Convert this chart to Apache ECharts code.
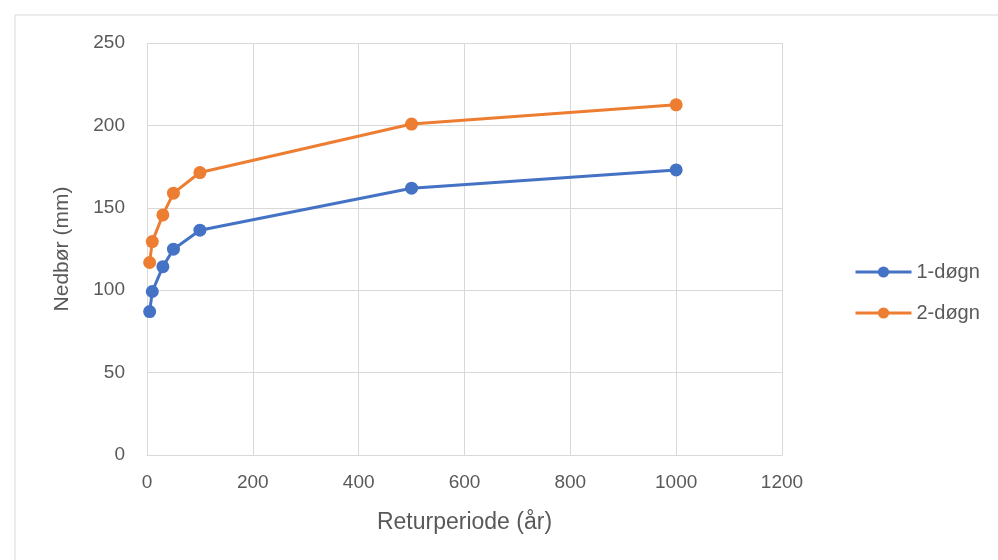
<!DOCTYPE html>
<html><head><meta charset="utf-8">
<script src="https://cdn.jsdelivr.net/npm/echarts@6/dist/echarts.min.js"></script>
<style>html,body{margin:0;padding:0;background:#fff}#c{width:998px;height:560px}</style>
</head><body><div id="c"></div>
<script>
const returnPeriods = [5, 10, 30, 50, 100, 500, 1000];
const day1 = [87.0, 99.2, 114.3, 124.9, 136.4, 161.9, 173.0];
const day2 = [116.8, 129.5, 145.7, 158.9, 171.4, 200.8, 212.5];
const seriesNames = ['1-døgn', '2-døgn'];
const xTitle = 'Returperiode (år)';
const yTitle = 'Nedbør (mm)';

const font = 'Liberation Sans';
const txt = '#595959';
const chart = echarts.init(document.getElementById('c'), null, {renderer: 'canvas'});
const pair = arr => returnPeriods.map((x, i) => [x, arr[i]]);
chart.setOption({
  animation: false,
  backgroundColor: '#fff',
  graphic: [{type: 'rect', shape: {x: 15, y: 15, width: 1000, height: 600}, style: {fill: 'none', stroke: '#d9d9d9', lineWidth: 1}, silent: true}],
  grid: {left: 147, right: 216, top: 43, bottom: 105},
  legend: {
    orient: 'vertical', left: 849, top: 257, itemGap: 21, itemWidth: 56, itemHeight: 14,
    lineStyle: {width: 3},
    textStyle: {color: txt, fontFamily: font, fontSize: 20},
    data: seriesNames
  },
  xAxis: {
    type: 'value', min: 0, max: 1200, interval: 200,
    name: xTitle, nameLocation: 'middle', nameGap: 56,
    nameTextStyle: {color: txt, fontFamily: font, fontSize: 23},
    axisLine: {show: true, lineStyle: {color: '#d9d9d9'}},
    axisTick: {show: false},
    axisLabel: {color: txt, fontFamily: font, fontSize: 19, margin: 18, formatter: v => String(v)},
    splitLine: {show: true, lineStyle: {color: '#d9d9d9'}}
  },
  yAxis: {
    type: 'value', min: 0, max: 250, interval: 50,
    name: yTitle, nameLocation: 'middle', nameGap: 74, nameRotate: 90,
    nameTextStyle: {color: txt, fontFamily: font, fontSize: 21},
    axisLine: {show: false},
    axisTick: {show: false},
    axisLabel: {color: txt, fontFamily: font, fontSize: 19, margin: 22},
    splitLine: {show: true, lineStyle: {color: '#d9d9d9'}}
  },
  series: [
    {name: seriesNames[0], type: 'line', data: pair(day1), color: '#4472C4',
     symbol: 'circle', symbolSize: 13, lineStyle: {width: 3}},
    {name: seriesNames[1], type: 'line', data: pair(day2), color: '#ED7D31',
     symbol: 'circle', symbolSize: 13, lineStyle: {width: 3}}
  ]
});
</script></body></html>
